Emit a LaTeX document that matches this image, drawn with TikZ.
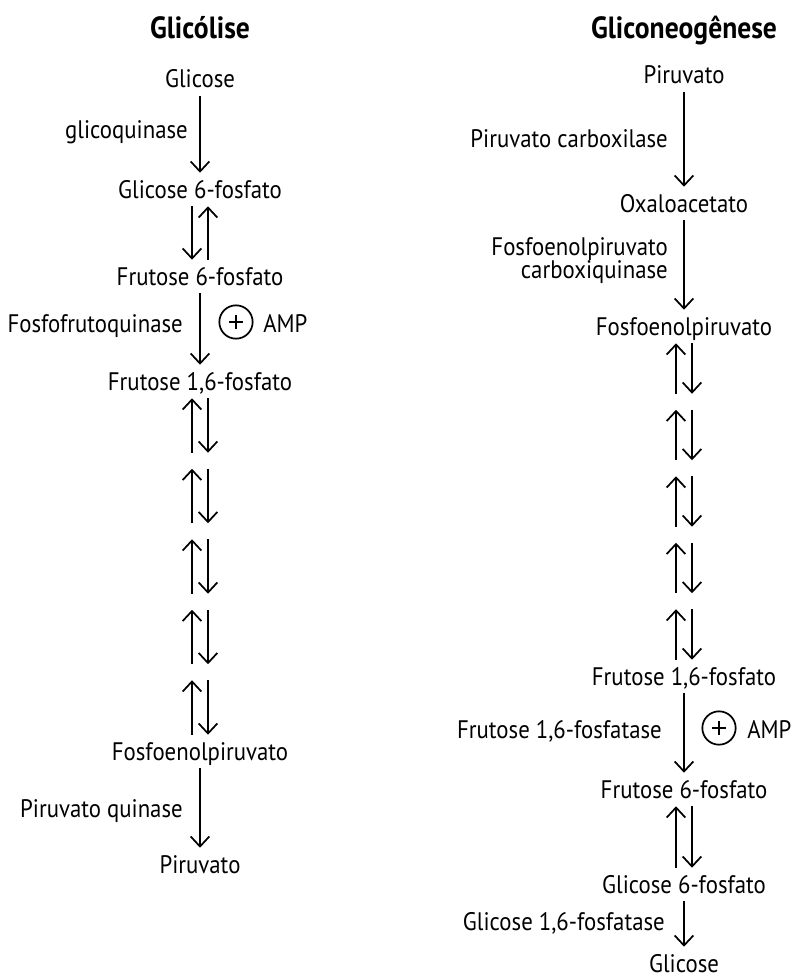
\documentclass[tikz,border=0pt]{standalone}
\usepackage{fontspec}
\setmainfont{PT Sans}[FakeStretch=0.9]
\usetikzlibrary{arrows.meta,calc}

\begin{document}
\begin{tikzpicture}[x=0.75pt,y=-0.75pt,
  txt/.style={inner sep=0pt, text height=12.75pt, text depth=0pt,
    font=\fontsize{19pt}{22pt}\selectfont},
  chem/.style={txt, anchor=base},
  lbl/.style={txt, anchor=base east},
  ttl/.style={inner sep=0pt, anchor=base,
    font=\bfseries\fontsize{23pt}{27pt}\selectfont},
  arr/.style={line width=1.3pt, -{Straight Barb[length=7.5pt,width=14pt]},
    shorten <=6pt, shorten >=6pt},
  plus/.style={circle, draw, line width=1.3pt, inner sep=0pt, minimum size=25pt},
  plusbar/.style={line width=1.6pt},
  amp/.style={txt, anchor=base west}
]
\useasboundingbox (0,0) rectangle (796,977);

% ---------- Glicólise ----------
\node[ttl]  (title1) at (200,39)  {Glicólise};
\node[chem] (glc1)   at (200,88)  {Glicose};
\node[lbl]  (gk)     at (188,138) {glicoquinase};
\node[chem] (g6p1)   at (200,198) {Glicose 6-fosfato};
\node[chem] (f6p1)   at (200,285) {Frutose 6-fosfato};
\node[lbl]  (pfk)    at (183,332) {Fosfofrutoquinase};
\node[plus] (plus1)  at (236,322) {};
\draw[plusbar] ($(plus1.center)+(-7,0)$) -- ($(plus1.center)+(7,0)$)
               ($(plus1.center)+(0,-7)$) -- ($(plus1.center)+(0,7)$);
\node[amp]  (amp1)   at (263,332) {AMP};
\node[chem] (f16p1)  at (200,390) {Frutose 1,6-fosfato};
\node[chem] (pep1)   at (200,760) {Fosfoenolpiruvato};
\node[lbl]  (pk)     at (183,817) {Piruvato quinase};
\node[chem] (pyr1)   at (200,873) {Piruvato};

\draw[arr] (glc1.south) -- (g6p1.north);
\draw[arr] ($(g6p1.south)+(-8,0)$) -- ($(f6p1.north)+(-8,0)$);
\draw[arr] ($(f6p1.north)+(8,0)$) -- ($(g6p1.south)+(8,0)$);
\draw[arr] (f6p1.south) -- (f16p1.north);
\foreach \i [evaluate=\i as \a using \i/5, evaluate=\i as \b using (\i+1)/5] in {0,...,4} {
  \draw[arr] ($(f16p1.south)!\b!(pep1.north)+(-8,0)$) -- ($(f16p1.south)!\a!(pep1.north)+(-8,0)$);
  \draw[arr] ($(f16p1.south)!\a!(pep1.north)+(8,0)$) -- ($(f16p1.south)!\b!(pep1.north)+(8,0)$);
}
\draw[arr] (pep1.south) -- (pyr1.north);

% ---------- Gliconeogênese ----------
\node[ttl]  (title2) at (684,39)  {Gliconeogênese};
\node[chem] (pyr2)   at (684,84)  {Piruvato};
\node[lbl]  (pc)     at (668,147) {Piruvato carboxilase};
\node[chem] (oaa)    at (684,212) {Oxaloacetato};
\node[lbl]  (pepcka) at (668,255) {Fosfoenolpiruvato};
\node[lbl]  (pepckb) at (668,278) {carboxiquinase};
\node[chem] (pep2)   at (684,335) {Fosfoenolpiruvato};
\node[chem] (f16p2)  at (684,685) {Frutose 1,6-fosfato};
\node[lbl]  (fbp)    at (662,738) {Frutose 1,6-fosfatase};
\node[plus] (plus2)  at (719,728) {};
\draw[plusbar] ($(plus2.center)+(-7,0)$) -- ($(plus2.center)+(7,0)$)
               ($(plus2.center)+(0,-7)$) -- ($(plus2.center)+(0,7)$);
\node[amp]  (amp2)   at (747,738) {AMP};
\node[chem] (f6p2)   at (684,798) {Frutose 6-fosfato};
\node[chem] (g6p2)   at (684,893) {Glicose 6-fosfato};
\node[lbl]  (gp)     at (665,930) {Glicose 1,6-fosfatase};
\node[chem] (glc2)   at (684,972) {Glicose};

\draw[arr] (pyr2.south) -- (oaa.north);
\draw[arr] (oaa.south) -- (pep2.north);
\foreach \i [evaluate=\i as \a using \i/5, evaluate=\i as \b using (\i+1)/5] in {0,...,4} {
  \draw[arr] ($(pep2.south)!\b!(f16p2.north)+(-8,0)$) -- ($(pep2.south)!\a!(f16p2.north)+(-8,0)$);
  \draw[arr] ($(pep2.south)!\a!(f16p2.north)+(8,0)$) -- ($(pep2.south)!\b!(f16p2.north)+(8,0)$);
}
\draw[arr] (f16p2.south) -- (f6p2.north);
\draw[arr] ($(g6p2.north)+(-8,0)$) -- ($(f6p2.south)+(-8,0)$);
\draw[arr] ($(f6p2.south)+(8,0)$) -- ($(g6p2.north)+(8,0)$);
\draw[arr] (g6p2.south) -- (glc2.north);
\end{tikzpicture}
\end{document}
